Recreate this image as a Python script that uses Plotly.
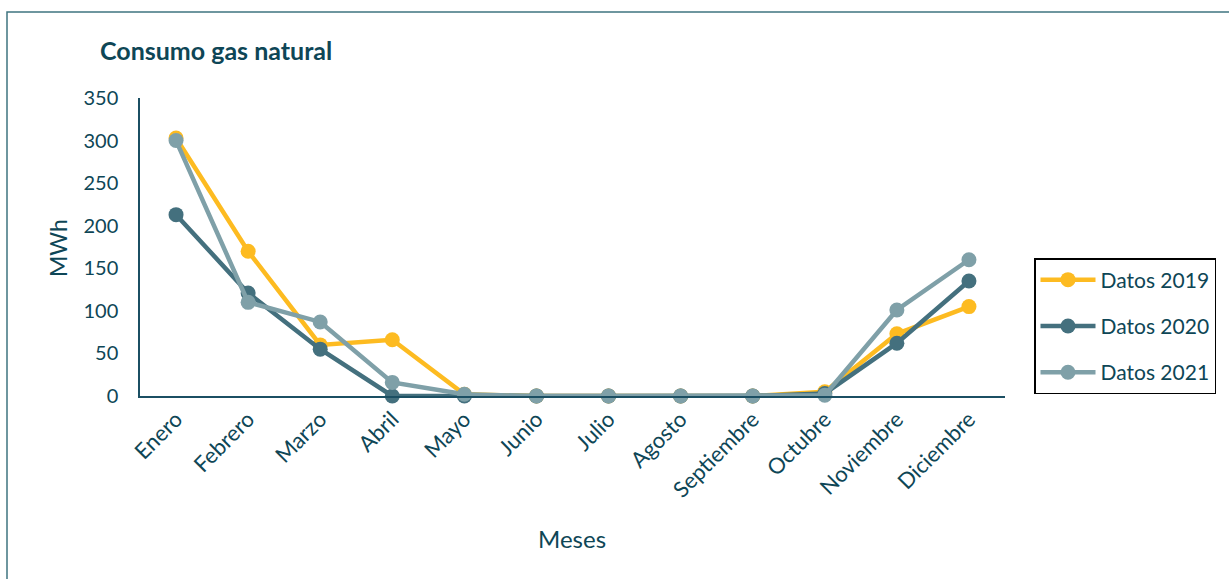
import plotly.graph_objects as go

meses = ["Enero", "Febrero", "Marzo", "Abril", "Mayo", "Junio", "Julio",
         "Agosto", "Septiembre", "Octubre", "Noviembre", "Diciembre"]
datos_2019 = [303, 170, 60, 66, 2, 0, 0, 0, 0, 5, 73, 105]
datos_2020 = [213, 121, 55, 0, 0, 0, 0, 0, 0, 3, 62, 135]
datos_2021 = [300, 110, 87, 16, 2, 0, 0, 0, 0, 1, 101, 160]

series = [
    ("Datos 2019", datos_2019, "#FDBB21"),
    ("Datos 2020", datos_2020, "#44707E"),
    ("Datos 2021", datos_2021, "#7FA0A8"),
]

FONT = "Lato, Open Sans, sans-serif"
TXT = "#0E4656"

fig = go.Figure()
for i, (name, vals, col) in enumerate(series):
    fig.add_trace(go.Scatter(
        x=meses, y=vals, name=name, mode="lines+markers",
        line=dict(color=col, width=4.5),
        marker=dict(color=col, size=15),
        cliponaxis=False, legendgroup=name,
    ))

L, R, T, B = 140, 224, 98, 183
W, H = 1229, 579
pw = W - L - R
ph = H - T - B

fig.update_layout(
    width=W, height=H,
    margin=dict(l=L, r=R, t=T, b=B),
    paper_bgcolor="white", plot_bgcolor="white",
    font=dict(family=FONT, color=TXT, size=20),
    showlegend=True,
    legend=dict(
        x=(1034 - L) / pw, y=(396 - 258) / ph, xanchor="left", yanchor="top",
        bordercolor="black", borderwidth=1.5, bgcolor="white",
        font=dict(size=21, color=TXT), tracegroupgap=16, traceorder="grouped",
        itemwidth=55,
    ),
    xaxis=dict(
        type="category", range=[-0.5, 11.5], showgrid=False,
        showline=True, linecolor="#1B4F63", linewidth=1.5,
        tickangle=-45, ticks="", tickfont=dict(size=22, color=TXT),
        zeroline=False,
    ),
    yaxis=dict(
        range=[0, 350], dtick=50, showgrid=False, zeroline=False,
        showline=True, linecolor="#1B4F63", linewidth=1.5,
        ticks="", ticklen=0, tickfont=dict(size=20, color=TXT),
        ticklabelstandoff=16,
    ),
    shapes=[dict(
        type="rect", xref="paper", yref="paper",
        x0=(7 - L) / pw, x1=(1300 - L) / pw,
        y0=-(700 - (H - B)) / ph, y1=(396 - 12) / ph,
        line=dict(color="#3F7480", width=1.5), fillcolor="rgba(0,0,0,0)",
        layer="below",
    )],
    annotations=[
        dict(text="<b>Consumo gas natural</b>", xref="paper", yref="paper",
             x=(98 - L) / pw, y=(396 - 50) / ph, xanchor="left", yanchor="middle",
             showarrow=False, font=dict(size=25, color=TXT, family=FONT)),
        dict(text="MWh", xref="paper", yref="paper",
             x=(58 - L) / pw, y=(396 - 248) / ph, xanchor="center", yanchor="middle",
             textangle=-90, showarrow=False, font=dict(size=23, color=TXT, family=FONT)),
        dict(text="Meses", xref="paper", yref="paper",
             x=(572 - L) / pw, y=(396 - 538) / ph, xanchor="center", yanchor="middle",
             showarrow=False, font=dict(size=24, color=TXT, family=FONT)),
    ],
)

fig.write_html("out.html")
